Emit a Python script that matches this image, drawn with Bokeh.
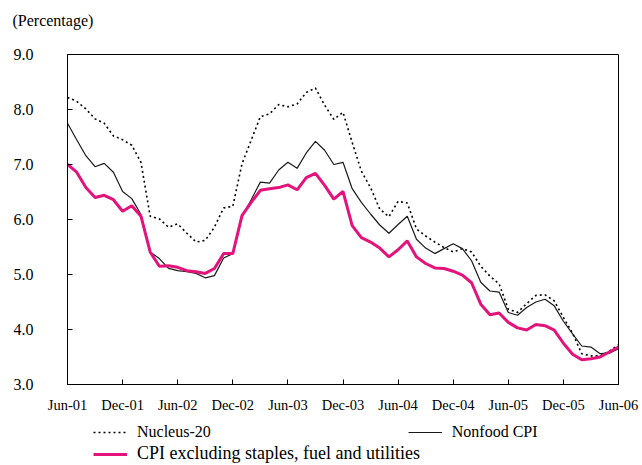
from bokeh.plotting import figure
from bokeh.layouts import column
from bokeh.models import (Range1d, FixedTicker, Legend, LegendItem, Title,
                          NumeralTickFormatter)
from bokeh.embed import file_html
from bokeh.resources import INLINE

# ---- data (monthly, Jun-01 .. Jun-06) ----
months = list(range(61))
nucleus20 = [8.22, 8.15, 8.01, 7.83, 7.75, 7.52, 7.45, 7.35, 7.04, 6.06,
             6.01, 5.86, 5.92, 5.75, 5.59, 5.62, 5.86, 6.21, 6.24, 7.01,
             7.44, 7.87, 7.92, 8.09, 8.05, 8.10, 8.31, 8.39, 8.08, 7.82,
             7.95, 7.40, 6.88, 6.58, 6.19, 6.05, 6.33, 6.30, 5.83, 5.70,
             5.59, 5.49, 5.41, 5.47, 5.41, 5.15, 4.97, 4.83, 4.37, 4.31,
             4.47, 4.62, 4.63, 4.52, 4.22, 3.93, 3.56, 3.52, 3.52, 3.61,
             3.72]
nonfood = [7.75, 7.45, 7.16, 6.96, 7.02, 6.86, 6.51, 6.38, 6.09, 5.41,
           5.29, 5.11, 5.07, 5.05, 5.02, 4.94, 4.98, 5.30, 5.38, 6.05,
           6.36, 6.68, 6.66, 6.90, 7.04, 6.93, 7.21, 7.42, 7.26, 7.00,
           7.04, 6.56, 6.31, 6.10, 5.90, 5.75, 5.91, 6.06, 5.64, 5.48,
           5.38, 5.47, 5.56, 5.47, 5.25, 4.86, 4.70, 4.68, 4.31, 4.26,
           4.40, 4.50, 4.55, 4.43, 4.15, 3.92, 3.70, 3.68, 3.56, 3.57,
           3.65]
cpi_excl = [7.00, 6.86, 6.58, 6.40, 6.44, 6.36, 6.15, 6.25, 6.06, 5.41,
            5.15, 5.16, 5.13, 5.07, 5.05, 5.02, 5.11, 5.38, 5.38, 6.07,
            6.31, 6.53, 6.56, 6.58, 6.63, 6.54, 6.76, 6.84, 6.62, 6.37,
            6.51, 5.89, 5.67, 5.59, 5.48, 5.32, 5.45, 5.61, 5.32, 5.20,
            5.12, 5.11, 5.06, 4.99, 4.85, 4.46, 4.27, 4.30, 4.13, 4.03,
            3.99, 4.09, 4.07, 3.99, 3.75, 3.55, 3.45, 3.47, 3.50, 3.59,
            3.68]
tick_positions = [0, 6, 12, 18, 24, 30, 36, 42, 48, 54, 60]
tick_labels = ["Jun-01", "Dec-01", "Jun-02", "Dec-02", "Jun-03", "Dec-03",
               "Jun-04", "Dec-04", "Jun-05", "Dec-05", "Jun-06"]
y_ticks = [3.0, 4.0, 5.0, 6.0, 7.0, 8.0, 9.0]
series_names = ["Nucleus-20", "Nonfood CPI",
                "CPI excluding staples, fuel and utilities"]
unit_label = "(Percentage)"

FONT = "Liberation Serif"
MAGENTA = "#E3137B"
STYLES = [dict(line_color="black", line_width=1.6, line_dash="2 3"),
          dict(line_color="#1a1a1a", line_width=1.2),
          dict(line_color=MAGENTA, line_width=3)]
SERIES = [nucleus20, nonfood, cpi_excl]

p = figure(width=640, height=418, output_backend="svg", toolbar_location=None,
           x_range=Range1d(0, 60), y_range=Range1d(3, 9),
           min_border_left=67, min_border_right=22, min_border_top=54,
           min_border_bottom=34)
p.grid.visible = False
p.outline_line_color = "black"
p.outline_line_width = 1
p.background_fill_color = "white"
p.border_fill_color = "white"

for vals, st in zip(SERIES, STYLES):
    p.line(months, vals, **st)

xa = p.xaxis[0]
xa.ticker = FixedTicker(ticks=tick_positions)
xa.major_label_overrides = {t: l for t, l in zip(tick_positions, tick_labels)}
xa.minor_tick_line_color = None
xa.major_tick_in = 5
xa.major_tick_out = 0
xa.major_label_standoff = 12
xa.axis_line_color = "black"
xa.major_tick_line_color = "black"
xa.major_label_text_font = FONT
xa.major_label_text_font_size = "14.5px"
xa.major_label_text_color = "black"

ya = p.yaxis[0]
ya.ticker = FixedTicker(ticks=y_ticks)
ya.formatter = NumeralTickFormatter(format="0.0")
ya.minor_tick_line_color = None
ya.major_tick_in = 5
ya.major_tick_out = 0
ya.major_label_standoff = 34
ya.axis_line_color = "black"
ya.major_tick_line_color = "black"
ya.major_label_text_font = FONT
ya.major_label_text_font_size = "16px"
ya.major_label_text_color = "black"

# spacer (closest to the frame) then the unit caption above it
p.add_layout(Title(text=" ", text_font_size="1px", standoff=23), "above")
p.add_layout(Title(text=unit_label, align="left", offset=-55, standoff=0,
                   text_font=FONT, text_font_size="16px",
                   text_font_style="normal", text_color="black"), "above")

# ---- legend strip below the chart ----
q = figure(width=640, height=46, output_backend="svg", toolbar_location=None,
           x_range=Range1d(0, 1), y_range=Range1d(0, 1),
           x_axis_type=None, y_axis_type=None,
           min_border_left=0, min_border_right=0, min_border_top=0,
           min_border_bottom=0)
q.grid.visible = False
q.outline_line_color = None
q.background_fill_color = "white"
q.border_fill_color = "white"
# same series, outside this strip's visible range: only legend samples show
lr = [q.line(months, vals, **st) for vals, st in zip(SERIES, STYLES)]

def make_legend(items, loc, size, spacing=0):
    return Legend(items=items, location=loc, orientation="horizontal",
                  glyph_width=34, glyph_height=size, label_standoff=10,
                  label_height=size, spacing=spacing, padding=0, margin=0,
                  border_line_color=None, background_fill_alpha=0,
                  label_text_font=FONT, label_text_font_size=f"{size}px",
                  label_text_color="black")

leg1 = make_legend([LegendItem(label=series_names[0], renderers=[lr[0]]),
                    LegendItem(label=series_names[1], renderers=[lr[1]])],
                   (26, 23), 16, spacing=197)
leg2 = make_legend([LegendItem(label=series_names[2], renderers=[lr[2]])],
                   (26, 0), 18)
q.add_layout(leg1, "center")
q.add_layout(leg2, "center")

layout = column(p, q, spacing=0)
open("out.html", "w").write(file_html(layout, INLINE))
